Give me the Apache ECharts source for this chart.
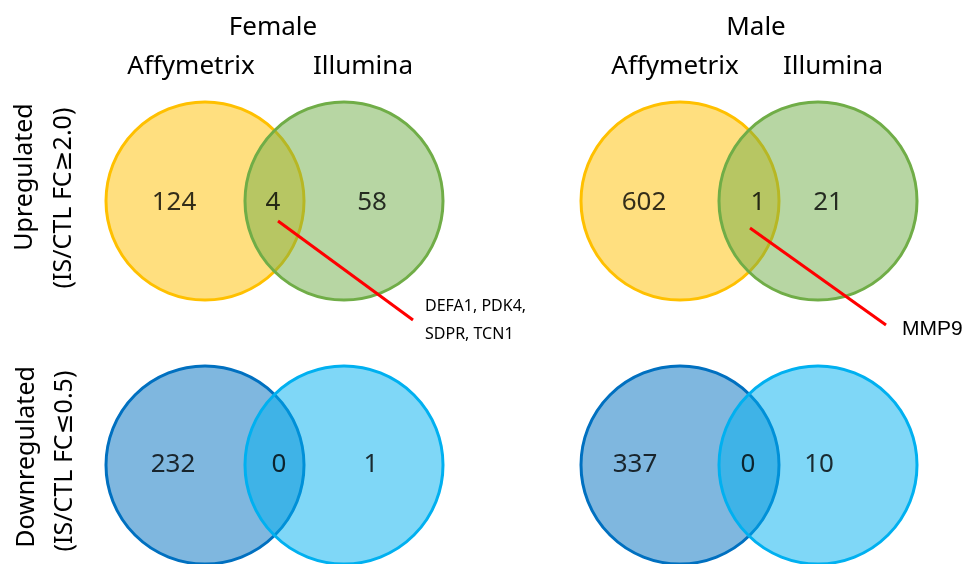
<!DOCTYPE html>
<html><head><meta charset="utf-8">
<script src="https://cdn.jsdelivr.net/npm/echarts@6/dist/echarts.min.js"></script>
<style>html,body{margin:0;padding:0;background:#fff}#c{width:966px;height:564px}</style>
</head><body><div id="c"></div>
<script>
// ---------------- data ----------------
const sexes = ['Female', 'Male'];
const platforms = ['Affymetrix', 'Illumina'];
const directions = ['Upregulated', 'Downregulated'];
const criteria = ['(IS/CTL FC\u22652.0)', '(IS/CTL FC\u22640.5)'];
const upAffyOnly = [124, 602];
const upShared = [4, 1];
const upIlluOnly = [58, 21];
const downAffyOnly = [232, 337];
const downShared = [0, 0];
const downIlluOnly = [1, 10];
const sharedUpGenes = ['DEFA1, PDK4,\nSDPR, TCN1', 'MMP9'];

// ---------------- layout (units of the hidden 966x564 axes) ----------------
const LAYOUT = {
  affyX: [205, 680], illuX: [344, 818], rowY: [201, 465], r: 99,
  numX: [ // [row][sex] -> [affyOnly, shared, illuOnly]
    [[174, 273, 372], [644, 758, 828]],
    [[173, 279, 371], [635, 748, 819]]
  ],
  numY: [203, 465],
  leader: [[278, 221, 413, 320], [750, 228, 886, 325]],
  geneAnchor: [[425, 320], [902, 329]],
  sexTitle: [[273, 28], [756, 28]],
  platTitle: [[[191, 67], [363, 67]], [[675, 67], [833, 67]]],
  dirLabel: [[25, 177], [27, 457]],
  critLabel: [[64, 198], [65, 461]]
};
const STYLE = {
  stroke: [['#FFC000', '#70AD47'], ['#0070C0', '#00B0F0']],
  fill: [['rgba(255,192,0,0.5)', 'rgba(112,173,71,0.5)'], ['rgba(0,112,192,0.5)', 'rgba(0,176,240,0.5)']]
};
const FONT = '"Noto Sans", "DejaVu Sans", sans-serif';
const TXT = '#000';

// ---------------- build series data ----------------
const counts = [[upAffyOnly, upShared, upIlluOnly], [downAffyOnly, downShared, downIlluOnly]];
const circleData = [];
for (let p = 0; p < 2; p++) {            // platform order: affy first, illumina on top
  for (let row = 0; row < 2; row++) {
    for (let s = 0; s < 2; s++) {
      const cx = p === 0 ? LAYOUT.affyX[s] : LAYOUT.illuX[s];
      circleData.push([cx, LAYOUT.rowY[row], LAYOUT.r, row, p]);
    }
  }
}
const numberData = [];
for (let row = 0; row < 2; row++) {
  for (let s = 0; s < 2; s++) {
    for (let k = 0; k < 3; k++) {
      numberData.push([LAYOUT.numX[row][s][k], LAYOUT.numY[row], counts[row][k][s]]);
    }
  }
}
const leaderData = LAYOUT.leader.map(l => l.slice());
const geneData = sharedUpGenes.map((g, s) => ({ value: LAYOUT.geneAnchor[s], name: g, s: s }));

const graphics = [];
sexes.forEach((name, s) => {
  graphics.push({ type: 'text', x: LAYOUT.sexTitle[s][0], y: LAYOUT.sexTitle[s][1],
    style: { text: name, font: '26px ' + FONT, fill: TXT, align: 'center', verticalAlign: 'middle' } });
  platforms.forEach((pl, p) => {
    graphics.push({ type: 'text', x: LAYOUT.platTitle[s][p][0], y: LAYOUT.platTitle[s][p][1],
      style: { text: pl, font: '26px ' + FONT, fill: TXT, align: 'center', verticalAlign: 'middle' } });
  });
});
directions.forEach((d, row) => {
  graphics.push({ type: 'text', x: LAYOUT.dirLabel[row][0], y: LAYOUT.dirLabel[row][1], rotation: Math.PI / 2,
    style: { text: d, font: '25px ' + FONT, fill: TXT, align: 'center', verticalAlign: 'middle' } });
  graphics.push({ type: 'text', x: LAYOUT.critLabel[row][0], y: LAYOUT.critLabel[row][1], rotation: Math.PI / 2,
    style: { text: criteria[row], font: '25px ' + FONT, fill: TXT, align: 'center', verticalAlign: 'middle' } });
});

const chart = echarts.init(document.getElementById('c'), null, { renderer: 'canvas' });
chart.setOption({
  animation: false,
  backgroundColor: '#fff',
  grid: { left: 0, right: 0, top: 0, bottom: 0 },
  xAxis: { type: 'value', min: 0, max: 966, show: false },
  yAxis: { type: 'value', min: 0, max: 564, inverse: true, show: false },
  graphic: graphics,
  series: [
    {
      type: 'custom', z: 1,
      data: circleData,
      renderItem: function (params, api) {
        const c = api.coord([api.value(0), api.value(1)]);
        const e = api.coord([api.value(0) + api.value(2), api.value(1)]);
        const row = api.value(3), p = api.value(4);
        return { type: 'circle', shape: { cx: c[0], cy: c[1], r: e[0] - c[0] },
          style: { fill: STYLE.fill[row][p], stroke: STYLE.stroke[row][p], lineWidth: 3 } };
      }
    },
    {
      type: 'custom', z: 3,
      data: leaderData,
      renderItem: function (params, api) {
        const a = api.coord([api.value(0), api.value(1)]);
        const b = api.coord([api.value(2), api.value(3)]);
        return { type: 'line', shape: { x1: a[0], y1: a[1], x2: b[0], y2: b[1] },
          style: { stroke: '#FF0000', lineWidth: 3 } };
      }
    },
    {
      type: 'scatter', z: 4, symbolSize: 0,
      data: numberData,
      label: { show: true, position: 'inside', formatter: p => String(p.value[2]),
        fontFamily: FONT, fontSize: 26, color: TXT, textBorderWidth: 0 }
    },
    {
      type: 'custom', z: 4,
      data: geneData,
      renderItem: function (params, api) {
        const c = api.coord([api.value(0), api.value(1)]);
        const item = geneData[params.dataIndex];
        const isMale = item.s === 1;
        return { type: 'text', x: c[0], y: c[1],
          style: { text: item.name, fill: TXT, align: 'left', verticalAlign: 'middle',
            font: isMale ? '21px "Liberation Sans", Arial, sans-serif' : '16px ' + FONT,
            lineHeight: 28 } };
      }
    }
  ]
});
</script></body></html>
